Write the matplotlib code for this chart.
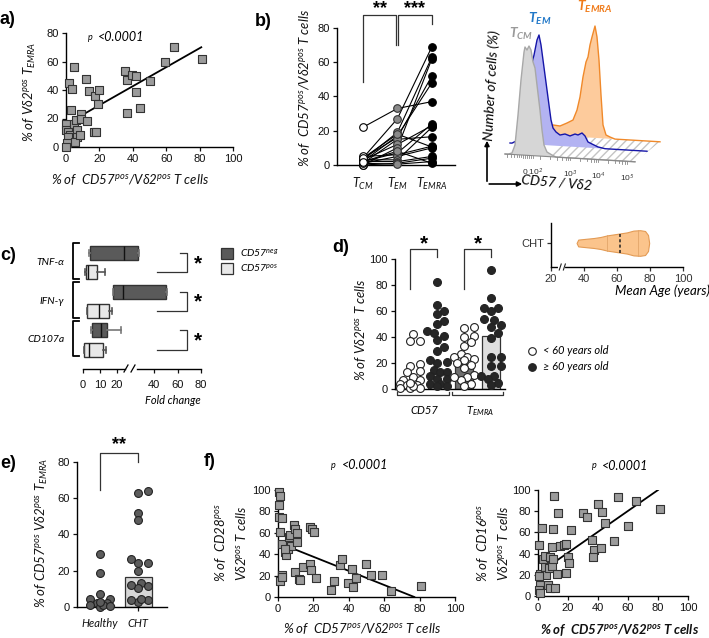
import numpy as np
import matplotlib
matplotlib.use("Agg")
import matplotlib.pyplot as plt
from matplotlib.patches import Polygon

# ---------------------------------------------------------------------------
# data
# ---------------------------------------------------------------------------
# a) CD57 vs TEMRA
a_x = [5, 1.6, 3.6, 2.8, 0, 0, 1, 2.4, 1.2, 0.4, 0, 5, 6, 6.6, 6.4, 5.6, 8.4, 9, 9,
       12, 12.4, 13.6, 17.6, 17, 18, 19, 19.6, 35.4, 36.4, 36.8, 39.6, 42, 41.8,
       44.2, 50.2, 59.2, 64.4, 81.6]
a_y = [56, 45, 40.6, 26, 16.2, 12, 10.8, 8.5, 6.8, 2.6, 0.2, 16.2, 19, 12, 6.8, 3.8,
       8.5, 23, 19.5, 48, 18, 39.6, 36, 10.8, 10.3, 30, 40, 53.5, 46.7, 24, 50.5,
       50, 38.5, 27.7, 46, 60, 70, 62]
a_fit_x = [9, 81]
a_fit_y = [22, 70]

# b) paired subsets
b_cats = ['CM', 'EM', 'EMRA']
b_tcm = [22, 4, 3, 2, 4, 1, 3, 0, 2, 5, 1, 3, 2, 0, 4, 1, 2]
b_tem = [33, 27, 19, 17, 16, 15, 12, 10, 7, 6, 5, 3, 2, 1, 18, 0.5, 8]
b_temra = [37, 69, 63, 48, 52, 16.5, 23, 62, 24, 11, 10, 22, 5, 4, 10.5, 2, 1]

# b) histogram sketch: channel, count (%) per subset
h_tcm_ch = [0, 3, 7, 10, 13, 16, 19, 20, 22, 24, 26, 28, 30, 32, 35, 37, 39, 42, 47, 51, 130]
h_tcm_n = [0, 0, 1.3, 8.6, 35.5, 67, 92, 96.6, 94, 97.7, 94.3, 83.7, 78.4, 63.3, 41,
           23.4, 10.1, 4, 1.6, 0, 0]
h_tem_ch = [5, 7, 13, 17, 21, 25, 29, 32, 34, 36, 38, 40, 42, 44, 46, 48, 51, 55, 60,
            65, 70, 73, 77, 80, 83, 87, 93, 100, 142]
h_tem_n = [0, 0, 3.1, 21.2, 43.7, 66.3, 79.8, 93.4, 98, 89.2, 75.9, 62.6, 49.3, 36,
           22.8, 15.7, 12.3, 9.8, 11, 9.5, 11.5, 10.8, 12.8, 10.3, 5.1, 3.5, 1.2, 0, 0]
h_temra_ch = [30, 35, 43, 48, 55, 62, 68, 72, 75, 78, 81, 83, 85, 87, 90, 92, 94, 96,
              98, 101, 105, 110, 155]
h_temra_n = [0, 3.2, 7.2, 9.3, 8.75, 11.8, 14.8, 23.9, 35.7, 53.8, 67.3, 71.9, 82.7,
             89.9, 99.9, 90.2, 69.7, 38.7, 12, 3.2, 1.6, 0, 0]
h_ticks = ['0 10$^{2}$', '10$^{3}$', '10$^{4}$', '10$^{5}$']

# c) fold change boxes (lo, q1, med, q3, hi)
c_groups = ['TNF-α', 'IFN-γ', 'CD107a']
c_neg = [(3.5, 4.1, 24.1, 26.4, 27), (17.4, 17.6, 23.5, 50.2, 51), (4.7, 5.3, 10.6, 14.1, 22.4)]
c_pos = [(1.2, 1.8, 2.9, 8.2, 12.9), (2.2, 2.4, 9.4, 15.3, 17), (0.6, 0.8, 3.5, 11.8, 13.5)]

# d) age groups
d_cd57_young = [42, 37, 37, 19, 18, 13.5, 13, 9, 7, 7, 4, 3, 3, 1, 1, 0.5, 2, 5]
d_cd57_old = [82, 65, 60, 58, 52, 50, 45, 43, 41, 38, 32, 29, 22, 21, 20, 15, 13, 13,
              10, 8, 8, 4, 4, 2, 2]
d_temra_young = [48, 47, 41, 40, 36, 33, 27, 25, 25, 22, 23, 20, 18.5, 16, 11, 9, 7, 4,
                 2, 9]
d_temra_old = [91.5, 70, 62, 62, 60, 54, 53, 48, 49, 43, 39, 25, 25, 18, 18, 10, 10, 8,
               5, 3]
d_bars = [5.5, 11.5, 19, 40.5]
d_bar_colors = ['#6e6e6e', '#dedede', '#6e6e6e', '#dedede']

# d) inset violin of CHT age
v_age = [35.5, 36.5, 40, 46, 50, 54, 58, 62, 66, 70, 74, 77, 78.8, 79.5]
v_half = [0, 0.17, 0.2, 0.25, 0.3, 0.38, 0.43, 0.48, 0.53, 0.62, 0.64, 0.6, 0.4, 0]
v_median = 61.6
v_quart = [54, 73]

# e) healthy vs CHT
e_healthy = [29, 19, 7, 4.5, 4.5, 2, 2, 1, 0, 1, 0.5, 3]
e_cht = [64, 63, 52, 48, 24, 24, 26.5, 19.7, 13, 11.4, 10.5, 12.3, 3.7, 2.6, 4, 4.6]
e_bars = [1, 16.4]

# f) CD28 and CD16 vs CD57
f28_x = [0.8, 1.3, 0.8, 0.8, 2.3, 1.3, 2.3, 3.8, 4.7, 5.5, 6.0, 6.6, 7.3, 8.8, 9.8, 11,
         10.7, 9.8, 11.7, 12.2, 13.9, 17.9, 18.2, 19.2, 20.1, 18.6, 21.6, 30, 31.8,
         35.2, 36, 39.8, 41.7, 42.3, 44.2, 49.8, 52.4, 58.6, 63.9, 80.6, 2.3, 1.3, 2.3,
         4.1]
f28_y = [98.4, 94.4, 86, 75, 73.6, 61, 49.4, 42.2, 39.4, 44.7, 56, 57.5, 47.2, 67.4,
         63.4, 60.2, 51, 23, 16.8, 15.5, 27.6, 30.7, 65.2, 63.4, 61.2, 25.5, 17.7, 6.2,
         14.9, 30, 35.4, 13, 26, 9.3, 17.7, 30.7, 20.8, 20.8, 5.3, 9.9, 20.8, 14.6,
         18.3, 44.7]
f28_fit_x = [5, 77]
f28_fit_y = [47.5, 0]
f16_x = [0.4, 1.1, 1.5, 0.9, 1.1, 2.7, 3.3, 4.4, 4.9, 5.5, 6.4, 7.1, 7.7, 8.2, 9.3, 9.3,
         9.7, 10.4, 10, 11.1, 12.6, 13.1, 14.6, 17.5, 18.8, 18.8, 19.7, 20.6, 21.9,
         30.3, 32.5, 36.3, 37.4, 36.9, 40.3, 42.5, 42.3, 44.7, 50.7, 53.5, 65.3, 59.7,
         81.6, 0.9]
f16_y = [48, 21, 10, 6, 2.8, 64.4, 35.3, 27.4, 37.5, 19.6, 10, 26.8, 7.6, 36.9, 28.4,
         46.4, 62.8, 94.6, 35.3, 7.9, 21, 77.9, 47.3, 48, 49.5, 21.8, 36.9, 31.2, 62,
         77.9, 74.8, 52.7, 43.8, 36.9, 86.8, 78.9, 45.4, 68.5, 51.7, 93, 89.9, 65.9,
         82, 19]
f16_fit_x = [8, 80]
f16_fit_y = [29, 100]

# ---------------------------------------------------------------------------
W, H = 709, 638
plt.rcParams['font.family'] = ['Liberation Sans', 'DejaVu Sans']
plt.rcParams['mathtext.fontset'] = 'custom'
plt.rcParams['mathtext.rm'] = 'Lato:italic'
plt.rcParams['mathtext.it'] = 'Lato:italic'
plt.rcParams['mathtext.bf'] = 'Lato:italic:bold'
plt.rcParams['mathtext.sf'] = 'Lato:italic'

label_kw = dict(family=['Lato', 'DejaVu Sans'], style='italic')
LAB = dict(label_kw, fontsize=9.5, color='#111')

fig = plt.figure(figsize=(W / 100, H / 100), dpi=100)


def add_ax(l, t, r, b):
    return fig.add_axes([l / W, 1 - b / H, (r - l) / W, (b - t) / H])


def ftext(x, y, s, **kw):
    fig.text(x / W, 1 - y / H, s, **kw)


def style(ax):
    for s in ['top', 'right']:
        ax.spines[s].set_visible(False)
    for s in ['left', 'bottom']:
        ax.spines[s].set_linewidth(1.0)
    ax.patch.set_alpha(0)
    ax.tick_params(direction='out', length=3, width=0.9, pad=2, labelsize=8,
                   colors='#111')


def swarm(vals, center, ppx, ppy, diam=7.0, maxoff=10.0):
    # deterministic beeswarm kept inside +-maxoff pixels, offsets in data units
    vals = np.asarray(vals, float)
    xs = np.zeros(len(vals))
    placed = []
    steps = np.arange(0, maxoff + 0.01, diam * 0.45)
    cands = [0.0] + [s * sg for s in steps[1:] for sg in (1, -1)]
    for i in np.argsort(vals):
        yv = vals[i] * ppy
        best, best_d = 0.0, -1
        for off in cands:
            d = min([np.hypot(off - px, yv - py) for px, py in placed] or [99])
            if d >= diam * 0.95:
                best = off
                break
            if d > best_d:
                best, best_d = off, d
        placed.append((best, yv))
        xs[i] = center + best / ppx
    return xs


def ptext(x, y, px, py):
    ftext(x, y, 'p', fontsize=6.5, va='center', **label_kw)
    ftext(px, py, '<0.0001', fontsize=9, va='center', **label_kw)


MK = dict(marker='s', s=30, c='#9b9b9b', edgecolors='#333333', linewidths=0.8,
          clip_on=False, zorder=3)

# ---------------------------------------------------------------------------
# a)
ax = add_ax(66, 33, 233, 147)
style(ax)
ax.set_xlim(0, 100)
ax.set_ylim(0, 80)
ax.scatter(a_x, a_y, **MK)
ax.plot(a_fit_x, a_fit_y, color='k', lw=1.3)
ax.set_xticks(range(0, 101, 20))
ax.set_yticks(range(0, 81, 20))
ftext(30, 92, '% of Vδ2$^{pos}$ T$_{EMRA}$', rotation=90, ha='center', va='center', **LAB)
ftext(130, 180, '% of  CD57$^{pos}$/Vδ2$^{pos}$ T cells', ha='center', va='center', **LAB)
ptext(88, 37, 98, 37)
ftext(0, 20, 'a)', fontsize=13, weight='bold', va='center')

# ---------------------------------------------------------------------------
# b) paired plot
ax = add_ax(337, 5, 455, 165)
style(ax)
ax.set_xlim(-0.75, 2.67)
ax.set_ylim(0, 93.4)
ax.spines['left'].set_bounds(0, 80)
for v0, v1, v2 in zip(b_tcm, b_tem, b_temra):
    ax.plot([0, 1, 2], [v0, v1, v2], color='k', lw=0.8, zorder=2)
ax.scatter(np.zeros(len(b_tcm)), b_tcm, s=30, facecolor='white', edgecolor='k',
           linewidths=0.8, zorder=3, clip_on=False)
ax.scatter(np.ones(len(b_tem)), b_tem, s=30, facecolor='#8a8a8a', edgecolor='#333',
           linewidths=0.8, zorder=3, clip_on=False)
ax.scatter(np.full(len(b_temra), 2), b_temra, s=30, facecolor='k', edgecolor='k',
           linewidths=0.8, zorder=3, clip_on=False)
ax.plot([0, 0, 0.97, 0.97], [48.6, 87.6, 87.6, 70], color='#333', lw=0.9, clip_on=False)
ax.plot([1.03, 1.03, 2, 2], [70, 87.6, 87.6, 82.3], color='#333', lw=0.9, clip_on=False)
ax.text(0.5, 91.5, '**', ha='center', va='center', fontsize=13, weight='bold')
ax.text(1.5, 91.5, '***', ha='center', va='center', fontsize=13, weight='bold')
ax.set_yticks(range(0, 81, 20))
ax.set_xticks([0, 1, 2])
ax.set_xticklabels(['T$_{' + c + '}$' for c in b_cats], fontsize=9, **label_kw)
ax.tick_params(axis='x', length=0, pad=8)
ftext(305, 88, '% of  CD57$^{pos}$/Vδ2$^{pos}$ T cells', rotation=90, ha='center',
      va='center', **LAB)
ftext(255, 21, 'b)', fontsize=13, weight='bold', va='center')

# b) histogram sketch, drawn in figure pixels
hx = add_ax(470, 0, 709, 200)
hx.set_xlim(470, 709)
hx.set_ylim(200, 0)
hx.axis('off')
X0, SHEAR, SC = 505, 0.06, 1.12


def layer(ch, n, base):
    ch = np.asarray(ch, float)
    n = np.asarray(n, float)
    X = X0 + ch
    yb = base + SHEAR * ch
    return X, yb, yb - n * SC


# hatched floor
floor = Polygon([[X0 + 45, 154 + SHEAR * 45], [X0 + 130, 154 + SHEAR * 130],
                 [X0 + 155, 132.5 + SHEAR * 155], [X0 + 60, 132.5 + SHEAR * 60]],
                closed=True, facecolor='white', edgecolor='#c4c4c4', hatch='////',
                lw=0.0, zorder=1)
hx.add_patch(floor)
for ch, n, base, fc, ec, z in [(h_temra_ch, h_temra_n, 132.5, '#fdcb9c', '#f0892a', 2),
                               (h_tem_ch, h_tem_n, 142.7, '#b3b3f2', '#1515a8', 3),
                               (h_tcm_ch, h_tcm_n, 154, '#d6d6d6', '#a8a8a8', 4)]:
    X, yb, yt = layer(ch, n, base)
    hx.fill_between(X, yb, yt, facecolor=fc, edgecolor='none', zorder=z)
    hx.plot(X, yt, color=ec, lw=1.0, zorder=z)
# tick axis of front layer
X, yb, _ = layer([0, 130], [0, 0], 154)
hx.plot(X, yb, color='#888', lw=0.8, zorder=5)
for c in [2, 6, 9, 12, 14, 16, 18, 20, 22, 24, 26, 28, 35, 45, 52, 57, 61, 63, 65, 75,
          82, 86, 89, 91, 93, 103, 110, 114, 117, 120, 122]:
    hx.plot([X0 + c, X0 + c], [154 + SHEAR * c, 154 + SHEAR * c + 2.5], color='#888',
            lw=0.6, zorder=5)
for s, c in zip(h_ticks, [28, 65, 93, 122]):
    hx.text(X0 + c, 170 + SHEAR * c, s, ha='center', va='center', fontsize=6,
            color='#333', family=['Liberation Sans', 'DejaVu Sans'])
hx.annotate('', xy=(487, 138), xytext=(487, 184),
            arrowprops=dict(arrowstyle='-|>', color='k', lw=1.2, mutation_scale=7))
hx.annotate('', xy=(525, 184), xytext=(486.4, 184),
            arrowprops=dict(arrowstyle='-|>', color='k', lw=1.2, mutation_scale=7))
hx.text(557, 183, 'CD57 / Vδ2', rotation=-5, ha='center', va='center', fontsize=10,
        **label_kw)
hx.text(492, 85, 'Number of cells (%)', rotation=87, ha='center', va='center',
        fontsize=10, **label_kw)
hx.text(521, 34, r'T$_{\mathbf{CM}}$', color='#9a9a9a', ha='center', va='center',
        fontsize=10, weight='bold', **label_kw)
hx.text(540, 19, r'T$_{\mathbf{EM}}$', color='#2178c8', ha='center', va='center',
        fontsize=10, weight='bold', **label_kw)
hx.text(595, 7, r'T$_{\mathbf{EMRA}}$', color='#f07b1a', ha='center', va='center',
        fontsize=10, weight='bold', **label_kw)

# ---------------------------------------------------------------------------
# c) fold change, broken x axis


def c_fwd(v):
    v = np.asarray(v, float)
    return np.where(v < 25, v * 1.7, 71 + (v - 40) * 1.175)


def c_inv(f):
    f = np.asarray(f, float)
    return np.where(f < 42.5, f / 1.7, np.where(f < 53.4, 25.0, 40 + (f - 71) / 1.175))


ax = add_ax(83, 240, 201, 369)
style(ax)
ax.spines['left'].set_visible(False)
ax.spines['bottom'].set_visible(False)
ax.set_xscale('function', functions=(c_fwd, c_inv))
ax.set_xlim(0, 80)
ax.set_ylim(6.0, -0.67)
xt = ax.get_xaxis_transform()
ax.plot([0, 24.7], [0, 0], color='k', lw=1.0, transform=xt, clip_on=False)
ax.plot([25.5, 80], [0, 0], color='k', lw=1.0, transform=xt, clip_on=False)


def c_stats(s):
    return dict(whislo=s[0], q1=s[1], med=s[2], q3=s[3], whishi=s[4], fliers=[])


for stats, offs, fc, wc in [(c_neg, 0, '#5a5a5a', '#777'), (c_pos, 1, '#e8e8e8', '#555')]:
    kw = dict(positions=[2 * i + offs for i in range(3)], widths=0.72, patch_artist=True,
              showfliers=False, capwidths=0.3, manage_ticks=False,
              boxprops=dict(facecolor=fc, edgecolor='#333', lw=1.0),
              medianprops=dict(color='#111', lw=1.0),
              whiskerprops=dict(color=wc, lw=1.2), capprops=dict(color=wc, lw=1.2))
    try:
        ax.bxp([c_stats(s) for s in stats], orientation='horizontal', **kw)
    except TypeError:
        ax.bxp([c_stats(s) for s in stats], vert=False, **kw)
ax.set_yticks([])
ax.set_ylim(6.0, -0.67)
ax.set_xlim(0, 80)
ax.set_xticks([0, 10, 20, 40, 60, 80])
ax.set_xticklabels(['0', '10', '20', '40', '60', '80'])
ax.tick_params(axis='x', pad=5)
bt = ax.get_yaxis_transform()
for i, g in enumerate(c_groups):
    top, bot = 2 * i - 0.5, 2 * i + 1.35
    ax.plot([-0.03, -0.085, -0.085, -0.03], [top, top, bot, bot], color='k', lw=1.3,
            transform=bt, clip_on=False)
    ax.text(-0.16, 2 * i + 0.5, g, transform=bt, ha='right', va='center', fontsize=7.5,
            **label_kw)
    ax.plot([42.6, 68, 68, 62], [2 * i + 1.0, 2 * i + 1.0, 2 * i, 2 * i], color='#333',
            lw=0.9, clip_on=False)
    ax.text(77, 2 * i + 0.55, '*', ha='center', va='center', fontsize=15, weight='bold')
ftext(173, 400, 'Fold change', ha='center', va='center', fontsize=8, **label_kw)
for bx in [124, 131]:
    fig.add_artist(plt.Line2D([bx / W, (bx + 4) / W], [1 - 372 / H, 1 - 365 / H],
                              color='k', lw=0.9))
# legend
for yy, fc, s in [(253, '#5a5a5a', 'CD57$^{neg}$'), (268, '#e8e8e8', 'CD57$^{pos}$')]:
    fig.add_artist(plt.Rectangle((221 / W, 1 - (yy + 6) / H), 12 / W, 11 / H,
                                 facecolor=fc, edgecolor='#333', lw=0.9))
    ftext(240, yy, s, va='center', fontsize=7.5, **label_kw)
ftext(0, 256, 'c)', fontsize=13, weight='bold', va='center')

# ---------------------------------------------------------------------------
# d) age groups
ax = add_ax(395, 235, 505, 389)
style(ax)
ax.set_xlim(-0.56, 3.52)
ax.set_ylim(0, 118.5)
ax.spines['left'].set_bounds(0, 100)
ax.bar(range(4), d_bars, width=0.66, color=d_bar_colors, edgecolor='#333', lw=0.9, zorder=1)
ppx_d, ppy_d = 27.0, 1.3
for i, (vals, fc) in enumerate([(d_cd57_young, 'white'), (d_cd57_old, '#262626'),
                                (d_temra_young, 'white'), (d_temra_old, '#262626')]):
    ax.scatter(swarm(vals, i, ppx_d, ppy_d, 7.5, 10.5), vals, s=32, facecolor=fc,
               edgecolor='#222', linewidths=0.8, zorder=3, clip_on=False)
for xl, xr in [(0, 1), (2, 3)]:
    ax.plot([xl, xl, xr, xr], [77, 108, 108, 101.5], color='#333', lw=0.9, clip_on=False)
    ax.text((xl + xr) / 2, 112, '*', ha='center', va='center', fontsize=15, weight='bold')
ax.set_yticks(range(0, 101, 20))
ax.set_xticks([])
ax.plot([-0.5, -0.5, 1.45, 1.45], [-2, -5, -5, -2], color='#333', lw=0.9, clip_on=False)
ax.plot([1.55, 1.55, 3.45, 3.45], [-2, -5, -5, -2], color='#333', lw=0.9, clip_on=False)
ftext(424, 410, 'CD57', ha='center', va='center', fontsize=8, **label_kw)
ftext(480, 411, 'T$_{EMRA}$', ha='center', va='center', fontsize=8, **label_kw)
ftext(360, 330, '% of Vδ2$^{pos}$ T cells', rotation=90, ha='center', va='center', **LAB)
fig.add_artist(plt.Line2D([532 / W], [1 - 351 / H], marker='o', ms=5.5, mfc='white',
                          mec='#222', mew=0.8, ls='none'))
fig.add_artist(plt.Line2D([532 / W], [1 - 367 / H], marker='o', ms=5.5, mfc='#262626',
                          mec='#222', mew=0.8, ls='none'))
ftext(543, 351, '< 60 years old', va='center', fontsize=8, **label_kw)
ftext(543, 367, '≥ 60 years old', va='center', fontsize=8, **label_kw)
ftext(332, 248, 'd)', fontsize=13, weight='bold', va='center')

# d) inset violin
ax = add_ax(551, 223, 683, 267)
style(ax)
ax.set_xlim(20, 100)
ax.set_ylim(-1.2, 1.0)
ax.fill_between(v_age, -np.array(v_half), v_half, facecolor='#fbc48c',
                edgecolor='#e39b55', lw=0.8, zorder=2)
hm = np.interp(v_median, v_age, v_half)
ax.plot([v_median, v_median], [-hm, hm], color='#222', lw=1.1, ls=(0, (2, 1.5)), zorder=3)
for q in v_quart:
    hq = np.interp(q, v_age, v_half)
    ax.plot([q, q], [-hq, hq], color='#e3a66a', lw=0.6, zorder=3)
ax.set_xticks([20, 40, 60, 80, 100])
ax.set_yticks([0])
ax.set_yticklabels(['CHT'])
ax.tick_params(labelsize=8, colors='#333')
ax.plot([25.5, 27.5], [-1.2, -1.2], color='white', lw=3, clip_on=False, zorder=4)
for bx in [25, 27.5]:
    ax.plot([bx, bx + 1.2], [-1.35, -1.05], color='#222', lw=0.8, clip_on=False, zorder=5)
ftext(662, 291, 'Mean Age (years)', ha='center', va='center', fontsize=9.5, **label_kw)

# ---------------------------------------------------------------------------
# e) healthy vs CHT
ax = add_ax(77, 440, 167, 607)
style(ax)
ax.set_xlim(-0.605, 1.76)
ax.set_ylim(0, 92)
ax.spines['left'].set_bounds(0, 80)
ax.bar([0, 1], e_bars, width=0.71, color='#d6d6d6', edgecolor='#333', lw=0.9, zorder=1)
for i, vals in enumerate([e_healthy, e_cht]):
    ax.scatter(swarm(vals, i, 38.0, 1.8125, 7.5, 12.0), vals, s=32, facecolor='#5c5c5c',
               edgecolor='#222', linewidths=0.8, zorder=3, clip_on=False)
ax.plot([0, 0, 1, 1], [64.6, 85, 85, 80], color='#333', lw=0.9, clip_on=False)
ax.text(0.5, 89.5, '**', ha='center', va='center', fontsize=13, weight='bold')
ax.set_yticks(range(0, 81, 20))
ax.set_xticks([0, 1])
ax.set_xticklabels(['Healthy', 'CHT'], fontsize=8, **label_kw)
ax.tick_params(axis='x', pad=5)
ftext(42, 533, '% of CD57$^{pos}$ Vδ2$^{pos}$ T$_{EMRA}$', rotation=90, ha='center',
      va='center', **LAB)
ftext(0, 463, 'e)', fontsize=13, weight='bold', va='center')

# ---------------------------------------------------------------------------
# f) left: CD28
ax = add_ax(278, 490, 455, 597)
style(ax)
ax.set_xlim(0, 100)
ax.set_ylim(0, 100)
ax.scatter(f28_x, f28_y, **MK)
ax.plot(f28_fit_x, f28_fit_y, color='k', lw=1.3)
ax.set_xticks(range(0, 101, 20))
ax.set_yticks(range(0, 101, 20))
ftext(231, 543, '% of  CD28$^{pos}$\nVδ2$^{pos}$ T cells', rotation=90, ha='center',
      va='center', linespacing=1.5, **LAB)
ftext(362, 628, '% of  CD57$^{pos}$/Vδ2$^{pos}$ T cells', ha='center', va='center', **LAB)
ptext(331, 465, 342, 465)
ftext(204, 462, 'f)', fontsize=13, weight='bold', va='center')

# f) right: CD16
ax = add_ax(538, 490, 688, 596)
style(ax)
ax.set_xlim(0, 100)
ax.set_ylim(0, 100)
ax.scatter(f16_x, f16_y, **MK)
ax.plot(f16_fit_x, f16_fit_y, color='k', lw=1.3)
ax.set_xticks(range(0, 101, 20))
ax.set_yticks(range(0, 101, 20))
ftext(492, 543, '% of  CD16$^{pos}$\nVδ2$^{pos}$ T cells', rotation=90, ha='center',
      va='center', linespacing=1.5, **LAB)
ftext(620, 630, r'% of  CD57$^{\mathbf{pos}}$/Vδ2$^{\mathbf{pos}}$ T cells', ha='center',
      va='center', weight='bold', **LAB)
ptext(592, 466, 602, 466)

fig.savefig('out.png', dpi=100)
